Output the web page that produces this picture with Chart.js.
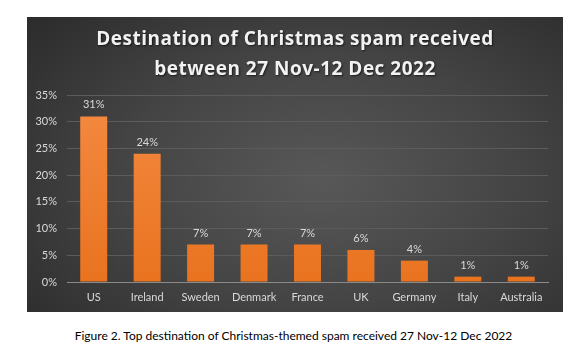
<!DOCTYPE html>
<html><head><meta charset="utf-8">
<script src="https://cdn.jsdelivr.net/npm/chart.js@4/dist/chart.umd.min.js"></script>
<style>
html,body{margin:0;padding:0;background:#fff;width:587px;height:352px;overflow:hidden;}
#panel{position:absolute;left:27px;top:17px;width:536px;height:295px;
background:radial-gradient(ellipse 75% 85% at 55% 55%, #585858 0%, #444 50%, #2a2a2a 100%);}
#cv{position:absolute;left:0;top:0;}
#cap{position:absolute;left:0;width:587px;top:328px;text-align:center;font:12px Lato, "Liberation Sans", sans-serif;color:#000;}
</style></head><body>
<div id="panel"><canvas id="cv" width="536" height="295"></canvas></div>
<div id="cap">Figure 2. Top destination of Christmas-themed spam received 27 Nov-12 Dec 2022</div>
<script>
const categories = ["US","Ireland","Sweden","Denmark","France","UK","Germany","Italy","Australia"];
const shares = [31,24,7,7,7,6,4,1,1];
const yTicks = [0,5,10,15,20,25,30,35];
const titleLines = ["Destination of Christmas spam received","between 27 Nov-12 Dec 2022"];

const labelPlugin = {
  id:'valLabels',
  afterDatasetsDraw(chart){
    const ctx = chart.ctx;
    const meta = chart.getDatasetMeta(0);
    ctx.save();
    ctx.fillStyle = '#d9d9d9';
    ctx.font = '11px Lato, "Liberation Sans", sans-serif';
    ctx.textAlign = 'center';
    ctx.textBaseline = 'bottom';
    meta.data.forEach((bar,i)=>{
      ctx.fillText(shares[i]+'%', bar.x, bar.y-6);
    });
    ctx.restore();
  }
};

const chart = new Chart(document.getElementById('cv'), {
  type:'bar',
  data:{labels:categories, datasets:[{data:shares,
    backgroundColor(c){
      const a=c.chart.chartArea; if(!a) return '#f07f2f';
      const g=c.chart.ctx.createLinearGradient(0,a.top,0,a.bottom);
      g.addColorStop(0,'#f48a42'); g.addColorStop(1,'#e9731f'); return g;
    },
    categoryPercentage:1, barPercentage:0.505}]},
  options:{
    responsive:false, animation:false, devicePixelRatio:1,
    layout:{padding:{left:0,right:15,top:0,bottom:0}},
    plugins:{legend:{display:false}, tooltip:{enabled:false},
      title:{display:true, text:titleLines, color:'#f2f2f2',
        font:{family:'"Open Sans", sans-serif', size:19, weight:'bold', lineHeight:1.58},
        padding:{top:8,bottom:10}}},
    scales:{
      x:{grid:{display:false, drawTicks:false},
        border:{color:'#8a8a8a'},
        ticks:{color:'#d9d9d9', font:{family:'Lato, "Liberation Sans", sans-serif', size:11}, padding:9},
        afterFit(s){s.height=30;}},
      y:{min:0,max:35,
        afterBuildTicks(s){s.ticks=yTicks.map(v=>({value:v}));},
        grid:{color:'#5c5c5c', drawTicks:false},
        border:{display:false},
        ticks:{color:'#d9d9d9', font:{family:'Lato, "Liberation Sans", sans-serif', size:11}, padding:10,
          callback:v=>v+'%'},
        afterFit(s){s.width=40;}}
    }
  },
  plugins:[labelPlugin]
});
if (chart.titleBlock) {
  const tb = chart.titleBlock;
  const orig = tb.draw.bind(tb);
  tb.draw = function(){
    const ctx = chart.ctx;
    ctx.save();
    ctx.translate(7.5, 0);
    ctx.letterSpacing = '0.5px';
    ctx.shadowColor = 'rgba(0,0,0,0.6)';
    ctx.shadowOffsetX = 1; ctx.shadowOffsetY = 1; ctx.shadowBlur = 2;
    orig();
    ctx.restore();
  };
  chart.draw();
}
</script>
</body></html>
